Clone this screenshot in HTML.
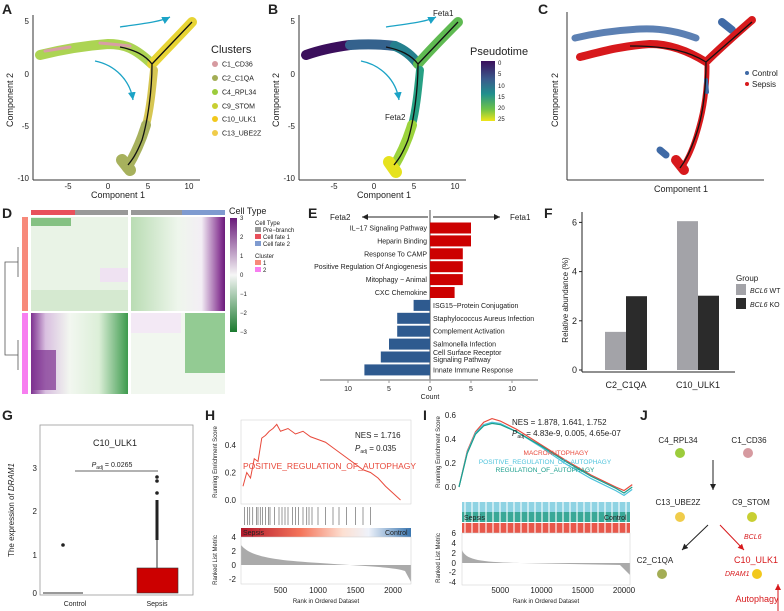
<!DOCTYPE html>
<html><head><meta charset="utf-8">
<style>
html,body{margin:0;padding:0;background:#fff;}
svg{display:block;font-family:"Liberation Sans",sans-serif;}
.t{fill:#222;}
</style></head>
<body>
<svg id="fig" width="784" height="611" viewBox="0 0 784 611" xmlns="http://www.w3.org/2000/svg">
<defs>
<linearGradient id="ptime" x1="0" y1="0" x2="0" y2="1">
<stop offset="0" stop-color="#3b0f5c"/><stop offset="0.3" stop-color="#3a5a8c"/><stop offset="0.55" stop-color="#21908d"/><stop offset="0.8" stop-color="#6cc24a"/><stop offset="1" stop-color="#f0e51a"/></linearGradient>
<linearGradient id="hmbar" x1="0" y1="0" x2="0" y2="1">
<stop offset="0" stop-color="#6a1b7a"/><stop offset="0.5" stop-color="#f6f6f6"/><stop offset="1" stop-color="#1b7a2f"/></linearGradient>
<linearGradient id="hm1" x1="0" y1="0" x2="1" y2="0">
<stop offset="0" stop-color="#b9dcb3"/><stop offset="0.5" stop-color="#eef6ec"/><stop offset="0.75" stop-color="#f3eef5"/><stop offset="0.95" stop-color="#8a3d96"/><stop offset="1" stop-color="#6a1b7a"/></linearGradient>
<linearGradient id="hm2" x1="0" y1="0" x2="1" y2="0">
<stop offset="0" stop-color="#7d3190"/><stop offset="0.15" stop-color="#d9bfe0"/><stop offset="0.4" stop-color="#f2f7f0"/><stop offset="0.7" stop-color="#dcefd8"/><stop offset="1" stop-color="#3d9a4d"/></linearGradient>
<linearGradient id="rankbar" x1="0" y1="0" x2="1" y2="0">
<stop offset="0" stop-color="#b2182b"/><stop offset="0.35" stop-color="#f4745a"/><stop offset="0.6" stop-color="#fde0d2"/><stop offset="0.75" stop-color="#eef2fa"/><stop offset="1" stop-color="#3a76b0"/></linearGradient>
<marker id="ab" markerWidth="8" markerHeight="8" refX="6" refY="3" orient="auto"><path d="M0,0 L6,3 L0,6 z" fill="#222"/></marker>
<marker id="ar" markerWidth="8" markerHeight="8" refX="6" refY="3" orient="auto"><path d="M0,0 L6,3 L0,6 z" fill="#d7191c"/></marker>
<marker id="at" markerWidth="8" markerHeight="8" refX="6" refY="3" orient="auto"><path d="M0,0 L6,3 L0,6 z" fill="#1ba3c6"/></marker>
</defs>

<!-- panel letters -->
<g font-weight="bold" font-size="14" class="t">
<text x="2" y="14">A</text><text x="268" y="14">B</text><text x="538" y="14">C</text>
<text x="2" y="218">D</text><text x="308" y="218">E</text><text x="544" y="218">F</text>
<text x="2" y="420">G</text><text x="205" y="420">H</text><text x="423" y="420">I</text><text x="640" y="420">J</text>
</g>

<!-- Panel A -->
<g>
<g fill="none" stroke-linecap="round" stroke-linejoin="round" opacity="0.95">
<path d="M40,55 C60,50 80,46 108,44 C125,44 135,48 152,64" stroke="#a8d24a" stroke-width="10"/>
<path d="M45,51 L70,47 M100,43 L130,46" stroke="#d69aa0" stroke-width="3"/>
<path d="M152,64 C165,50 180,35 192,22" stroke="#e6d22a" stroke-width="10"/>
<path d="M154,70 C152,90 150,110 146,125" stroke="#d4c44a" stroke-width="8"/>
<path d="M146,125 C140,145 133,158 127,168" stroke="#a3ad55" stroke-width="10"/>
<path d="M122,160 L130,170" stroke="#a3ad55" stroke-width="12"/>
</g>
<path d="M120,47 C135,50 145,55 152,64 C152,90 148,120 142,140 C136,155 132,160 128,165 M152,64 L192,22" fill="none" stroke="#111" stroke-width="1.3"/>
<path d="M120,27 C140,24 160,22 170,17" fill="none" stroke="#1ba3c6" stroke-width="1.3" marker-end="url(#at)"/>
<path d="M95,61 C115,65 130,80 133,100" fill="none" stroke="#1ba3c6" stroke-width="1.3" marker-end="url(#at)"/>
<line x1="33" y1="15" x2="33" y2="180" stroke="#333"/><line x1="33" y1="180" x2="200" y2="180" stroke="#333"/>
<g font-size="8" class="t" text-anchor="end"><text x="29" y="24">5</text><text x="29" y="77">0</text><text x="29" y="129">-5</text><text x="29" y="181">-10</text></g>
<g font-size="8" class="t" text-anchor="middle"><text x="68" y="189">-5</text><text x="108" y="189">0</text><text x="148" y="189">5</text><text x="189" y="189">10</text></g>
<text x="118" y="198" font-size="9" text-anchor="middle" class="t">Component 1</text>
<text transform="translate(13,100) rotate(-90)" font-size="9" text-anchor="middle" class="t">Component 2</text>
<text x="211" y="53" font-size="11" class="t">Clusters</text>
<g font-size="7" class="t">
<circle cx="215" cy="64" r="3" fill="#d69aa0"/><text x="222" y="66.5">C1_CD36</text>
<circle cx="215" cy="78" r="3" fill="#a3ad55"/><text x="222" y="80.5">C2_C1QA</text>
<circle cx="215" cy="92" r="3" fill="#9ccc3c"/><text x="222" y="94.5">C4_RPL34</text>
<circle cx="215" cy="106" r="3" fill="#c8cf32"/><text x="222" y="108.5">C9_STOM</text>
<circle cx="215" cy="119" r="3" fill="#f2c81c"/><text x="222" y="121.5">C10_ULK1</text>
<circle cx="215" cy="133" r="3" fill="#f0cc4a"/><text x="222" y="135.5">C13_UBE2Z</text>
</g>
</g>

<!-- Panel B -->
<g>
<g fill="none" stroke-linecap="round" stroke-linejoin="round">
<path d="M306,55 C320,50 335,47 350,45" stroke="#3b0f5c" stroke-width="10"/>
<path d="M350,45 C365,44 380,44 395,46" stroke="#34628d" stroke-width="10"/>
<path d="M395,46 C405,50 412,56 418,64" stroke="#24808e" stroke-width="10"/>
<path d="M418,64 C430,50 445,35 458,22" stroke="#5fba52" stroke-width="10"/>
<path d="M420,70 C418,90 416,110 412,125" stroke="#27a084" stroke-width="8"/>
<path d="M412,125 C406,145 399,158 393,168" stroke="#9bd33c" stroke-width="10"/>
<path d="M389,162 L396,172" stroke="#e6e21e" stroke-width="12"/>
</g>
<path d="M386,47 C401,50 411,55 418,64 C418,90 414,120 408,140 C402,155 398,160 394,165 M418,64 L458,22" fill="none" stroke="#111" stroke-width="1.3"/>
<path d="M386,27 C406,24 426,22 436,17" fill="none" stroke="#1ba3c6" stroke-width="1.3" marker-end="url(#at)"/>
<path d="M361,61 C381,65 396,80 399,100" fill="none" stroke="#1ba3c6" stroke-width="1.3" marker-end="url(#at)"/>
<text x="433" y="16" font-size="8" class="t">Feta1</text><text x="385" y="120" font-size="8" class="t">Feta2</text>
<line x1="299" y1="15" x2="299" y2="180" stroke="#333"/><line x1="299" y1="180" x2="466" y2="180" stroke="#333"/>
<g font-size="8" class="t" text-anchor="end"><text x="295" y="24">5</text><text x="295" y="77">0</text><text x="295" y="129">-5</text><text x="295" y="181">-10</text></g>
<g font-size="8" class="t" text-anchor="middle"><text x="334" y="189">-5</text><text x="374" y="189">0</text><text x="414" y="189">5</text><text x="455" y="189">10</text></g>
<text x="384" y="198" font-size="9" text-anchor="middle" class="t">Component 1</text>
<text transform="translate(279,100) rotate(-90)" font-size="9" text-anchor="middle" class="t">Component 2</text>
<text x="470" y="55" font-size="11" class="t">Pseudotime</text>
<rect x="481" y="61" width="14" height="60" fill="url(#ptime)"/>
<g font-size="6" class="t"><text x="498" y="65">0</text><text x="498" y="76">5</text><text x="498" y="88">10</text><text x="498" y="99">15</text><text x="498" y="110">20</text><text x="498" y="121">25</text></g>
</g>

<!-- Panel C -->
<g>
<g fill="none" stroke-linecap="round" stroke-linejoin="round">
<path d="M575,38 C600,32 620,30 640,29 C660,28 680,32 696,38" stroke="#3f6aa6" stroke-width="7" opacity="0.85"/>
<path d="M722,22 L732,30" stroke="#3f6aa6" stroke-width="8"/>
<path d="M580,57 C600,52 620,46 650,44 C670,44 690,52 706,62" stroke="#d7191c" stroke-width="8"/>
<path d="M706,62 C720,48 735,35 752,20" stroke="#d7191c" stroke-width="8"/>
<path d="M707,66 C707,90 704,110 698,130 C693,148 688,158 682,168" stroke="#d7191c" stroke-width="5"/>
<path d="M676,160 L684,170" stroke="#d7191c" stroke-width="10"/>
<path d="M706,80 L707,92" stroke="#3f6aa6" stroke-width="4"/>
<path d="M660,150 L666,155" stroke="#3f6aa6" stroke-width="7"/>
</g>
<path d="M630,46 C670,46 690,52 706,62 L752,22 M706,62 C706,90 703,115 696,135 C690,152 686,160 680,168" fill="none" stroke="#111" stroke-width="1.3"/>
<line x1="567" y1="12" x2="567" y2="180" stroke="#333"/><line x1="567" y1="180" x2="764" y2="180" stroke="#333"/>
<text x="681" y="192" font-size="9" text-anchor="middle" class="t">Component 1</text>
<text transform="translate(558,100) rotate(-90)" font-size="9" text-anchor="middle" class="t">Component 2</text>
<g font-size="8" class="t">
<circle cx="747" cy="73" r="2" fill="#3f6aa6"/><text x="752" y="76">Control</text>
<circle cx="747" cy="84" r="2" fill="#d7191c"/><text x="752" y="87">Sepsis</text>
</g>
</g>

<!-- Panel D heatmap -->
<g>
<rect x="31" y="210" width="44" height="5" fill="#e8505b"/><rect x="75" y="210" width="53" height="5" fill="#999"/>
<rect x="131" y="210" width="51" height="5" fill="#999"/><rect x="182" y="210" width="43" height="5" fill="#7f9bd0"/>
<rect x="31" y="217" width="97" height="94" fill="#e9f3e6"/><rect x="131" y="217" width="94" height="94" fill="url(#hm1)"/>
<rect x="31" y="218" width="40" height="8" fill="#6bb46a" opacity="0.8"/>
<rect x="31" y="290" width="97" height="21" fill="#cfe6ca" opacity="0.8"/>
<rect x="100" y="268" width="28" height="14" fill="#efe2f2"/>
<rect x="31" y="313" width="97" height="81" fill="url(#hm2)"/><rect x="131" y="313" width="94" height="81" fill="#f1f7ef"/>
<rect x="185" y="313" width="40" height="60" fill="#7cbf7c" opacity="0.8"/>
<rect x="131" y="313" width="50" height="20" fill="#f3e9f5"/>
<rect x="31" y="350" width="25" height="40" fill="#7d3190" opacity="0.7"/>
<rect x="22" y="217" width="6" height="94" fill="#f7897a"/><rect x="22" y="313" width="6" height="81" fill="#f77ef0"/>
<path d="M18,262 H5 V355 H18 M18,247 V277 M18,340 V370" fill="none" stroke="#555" stroke-width="0.8"/>
<text x="229" y="214" font-size="9" class="t">Cell Type</text>
<rect x="230" y="218" width="7" height="114" fill="url(#hmbar)"/>
<g font-size="6" class="t"><text x="240" y="220">3</text><text x="240" y="239">2</text><text x="240" y="258">1</text><text x="240" y="277">0</text><text x="240" y="296">−1</text><text x="240" y="315">−2</text><text x="240" y="334">−3</text></g>
<g font-size="6" class="t"><text x="255" y="225">Cell Type</text>
<rect x="255" y="227" width="6" height="5" fill="#999"/><text x="263" y="232">Pre−branch</text>
<rect x="255" y="234" width="6" height="5" fill="#e8505b"/><text x="263" y="239">Cell fate 1</text>
<rect x="255" y="241" width="6" height="5" fill="#7f9bd0"/><text x="263" y="246">Cell fate 2</text>
<text x="255" y="258">Cluster</text>
<rect x="255" y="260" width="6" height="5" fill="#f7897a"/><text x="263" y="265">1</text>
<rect x="255" y="267" width="6" height="5" fill="#f77ef0"/><text x="263" y="272">2</text></g>
</g>

<g id="panelE"></g>
<g id="panelF"></g>

<!-- Panel G -->
<g>
<rect x="40" y="425" width="153" height="170" fill="none" stroke="#999" stroke-width="0.8"/>
<text x="115" y="446" font-size="9" text-anchor="middle" class="t">C10_ULK1</text>
<line x1="75" y1="471" x2="158" y2="471" stroke="#666"/>
<text x="112" y="467" font-size="7" text-anchor="middle" class="t"><tspan font-style="italic">P</tspan><tspan font-size="5" dy="2">adj</tspan><tspan dy="-2"> = 0.0265</tspan></text>
<line x1="43" y1="593" x2="83" y2="593" stroke="#333"/>
<circle cx="63" cy="545" r="1.8" fill="#222"/>
<rect x="137" y="568" width="41" height="25" fill="#cc0000" stroke="#333" stroke-width="0.6"/>
<line x1="157" y1="568" x2="157" y2="540" stroke="#333"/>
<path d="M157,540 V500" stroke="#222" stroke-width="3"/>
<circle cx="157" cy="477" r="1.8" fill="#222"/><circle cx="157" cy="481" r="1.8" fill="#222"/><circle cx="157" cy="493" r="1.8" fill="#222"/>
<g font-size="8" class="t" text-anchor="end"><text x="37" y="471">3</text><text x="37" y="514">2</text><text x="37" y="558">1</text><text x="37" y="596">0</text></g>
<text x="75" y="606" font-size="7" text-anchor="middle" class="t">Control</text><text x="157" y="606" font-size="7" text-anchor="middle" class="t">Sepsis</text>
<text transform="translate(14,510) rotate(-90)" font-size="8" text-anchor="middle" class="t">The expression of <tspan font-style="italic">DRAM1</tspan></text>
</g>

<g id="panelH"></g>
<g id="panelI"></g>

<!-- Panel J -->
<g font-size="8">
<text x="678" y="443" text-anchor="middle" class="t">C4_RPL34</text><circle cx="680" cy="453" r="5" fill="#9ccc3c"/>
<text x="749" y="443" text-anchor="middle" class="t">C1_CD36</text><circle cx="748" cy="453" r="5" fill="#d69aa0"/>
<line x1="713" y1="460" x2="713" y2="490" stroke="#222" marker-end="url(#ab)"/>
<text x="678" y="505" text-anchor="middle" class="t">C13_UBE2Z</text><circle cx="680" cy="517" r="5" fill="#f0cc4a"/>
<text x="751" y="505" text-anchor="middle" class="t">C9_STOM</text><circle cx="752" cy="517" r="5" fill="#c8cf32"/>
<line x1="708" y1="525" x2="682" y2="550" stroke="#222" marker-end="url(#ab)"/>
<line x1="720" y1="525" x2="744" y2="550" stroke="#d7191c" marker-end="url(#ar)"/>
<text x="744" y="539" font-size="7" font-style="italic" fill="#d7191c">BCL6</text>
<text x="655" y="563" text-anchor="middle" class="t">C2_C1QA</text><circle cx="662" cy="574" r="5" fill="#a3ad55"/>
<text x="756" y="563" text-anchor="middle" font-size="9" fill="#d7191c">C10_ULK1</text>
<text x="725" y="576" font-size="7" font-style="italic" fill="#d7191c">DRAM1</text><circle cx="757" cy="574" r="5" fill="#f2c81c"/>
<text x="757" y="602" text-anchor="middle" font-size="9" fill="#d7191c">Autophagy</text>
<line x1="778" y1="611" x2="778" y2="584" stroke="#d7191c" marker-end="url(#ar)"/>
</g>
</svg>

<script>
const NS="http://www.w3.org/2000/svg";
// Panel E data
const eTerms=["IL−17 Signaling Pathway","Heparin Binding","Response To CAMP","Positive Regulation Of Angiogenesis","Mitophagy − Animal","CXC Chemokine","ISG15−Protein Conjugation","Staphylococcus Aureus Infection","Complement Activation","Salmonella Infection","Cell Surface Receptor|Signaling Pathway","Innate Immune Response"];
const eCounts=[5,5,4,4,4,3,2,4,4,5,6,8];
const eDir=[1,1,1,1,1,1,-1,-1,-1,-1,-1,-1];
const eTicks=[10,5,0,5,10];
// Panel F data
const fClusters=["C2_C1QA","C10_ULK1"];
const fWT=[1.55,6.05];
const fKO=[3.0,3.02];
const fTicks=[0,2,4,6];
// Panel H data
const hRank=[0,50,100,150,200,250,300,350,400,450,500,600,700,800,900,1000,1100,1200,1300,1400,1500,1600,1700,1800,1900,2000,2100];
const hES=[0.1,0.2,0.16,0.3,0.28,0.45,0.47,0.5,0.52,0.55,0.5,0.52,0.48,0.5,0.46,0.44,0.42,0.38,0.34,0.3,0.26,0.22,0.2,0.16,0.1,0.05,0.0];
const hXTicks=[500,1000,1500,2000];
const hYTicks=[0.0,0.2,0.4];
// Panel I data
const iRank=[0,1000,2000,3000,4000,5000,7000,10000,13000,16000,19000,20000,21000];
const iES1=[0,0.3,0.46,0.54,0.57,0.55,0.48,0.35,0.22,0.1,0.0,-0.03,0.02];
const iES2=[0,0.28,0.44,0.51,0.53,0.52,0.46,0.34,0.21,0.09,-0.01,-0.05,0.0];
const iES3=[0,0.29,0.45,0.52,0.54,0.53,0.46,0.33,0.19,0.07,-0.03,-0.07,-0.02];
const iXTicks=[5000,10000,15000,20000];
const iYTicks=[0.0,0.2,0.4,0.6];

function mk(tag,attrs,parent){const e=document.createElementNS(NS,tag);for(const k in attrs)e.setAttribute(k,attrs[k]);parent.appendChild(e);return e;}
function txt(s,attrs,parent){const e=mk('text',attrs,parent);e.textContent=s;return e;}

// ---- Panel E
(function(){
const g=document.getElementById('panelE');
const cx=430,u=8.2,y0=228,step=12.9,bh=11;
const xs=v=>cx+v*u;
txt("Feta2",{x:330,y:220,'font-size':8,fill:'#222'},g);
txt("Feta1",{x:510,y:220,'font-size':8,fill:'#222'},g);
mk('line',{x1:428,y1:217,x2:362,y2:217,stroke:'#222','marker-end':'url(#ab)'},g);
mk('line',{x1:433,y1:217,x2:500,y2:217,stroke:'#222','marker-end':'url(#ab)'},g);
mk('line',{x1:430,y1:210,x2:430,y2:380,stroke:'#222','stroke-width':0.8},g);
eCounts.forEach((c,i)=>{
 const yc=y0+i*step;
 const r=mk('rect',{x:eDir[i]>0?cx:xs(-c),y:yc-bh/2,width:c*u,height:bh,fill:eDir[i]>0?'#cc0000':'#2e5a8f'},g);
 
 
 const parts=eTerms[i].split('|');
 parts.forEach((p,j)=>{
  const off=parts.length>1?(j===0?-2:5):2.5;
  txt(p,{x:eDir[i]>0?cx-3:cx+3,y:yc+off,'font-size':7,'text-anchor':eDir[i]>0?'end':'start',fill:'#222'},g);
 });
});
mk('line',{x1:320,y1:380,x2:538,y2:380,stroke:'#999','stroke-width':1.5},g);
const tv=[-10,-5,0,5,10];
tv.forEach((v,i)=>{mk('line',{x1:xs(v),y1:380,x2:xs(v),y2:383,stroke:'#999'},g);txt(String(eTicks[i]),{x:xs(v),y:391,'font-size':7,'text-anchor':'middle',fill:'#222'},g);});
txt("Count",{x:430,y:399,'font-size':7,'text-anchor':'middle',fill:'#222'},g);
})();

// ---- Panel F
(function(){
const g=document.getElementById('panelF');
const y0=370,u=24.6,bw=21;
const ys=v=>y0-v*u;
const centers=[626,698];
mk('line',{x1:582,y1:212,x2:582,y2:372,stroke:'#222'},g);
mk('line',{x1:582,y1:372,x2:735,y2:372,stroke:'#222'},g);
fTicks.forEach(t=>{mk('line',{x1:579,y1:ys(t),x2:582,y2:ys(t),stroke:'#222'},g);txt(String(t),{x:577,y:ys(t)+3,'font-size':9,'text-anchor':'end',fill:'#222'},g);});
fClusters.forEach((c,i)=>{
 const b1=mk('rect',{x:centers[i]-bw,y:ys(fWT[i]),width:bw,height:fWT[i]*u,fill:'#a3a3a8'},g);
 
 
 const b2=mk('rect',{x:centers[i],y:ys(fKO[i]),width:bw,height:fKO[i]*u,fill:'#2b2b2b'},g);
 
 
 txt(c,{x:centers[i],y:388,'font-size':9,'text-anchor':'middle',fill:'#222'},g);
});
txt("Relative abundance (%)",{transform:'translate(568,300) rotate(-90)','font-size':8,'text-anchor':'middle',fill:'#222'},g);
txt("Group",{x:736,y:281,'font-size':8,fill:'#222'},g);
mk('rect',{x:736,y:284,width:10,height:11,fill:'#a3a3a8'},g);
mk('rect',{x:736,y:298,width:10,height:11,fill:'#2b2b2b'},g);
const l1=txt("",{x:750,y:293,'font-size':7,fill:'#222'},g);l1.innerHTML='<tspan font-style="italic">BCL6</tspan> WT';
const l2=txt("",{x:750,y:307,'font-size':7,fill:'#222'},g);l2.innerHTML='<tspan font-style="italic">BCL6</tspan> KO';
})();

// ---- Panel H
(function(){
const g=document.getElementById('panelH');
const L=241,R=411;
const xs=r=>243+r*0.075;
const ys=v=>500-v*137.5;
mk('rect',{x:L,y:420,width:R-L,height:84,fill:'none',stroke:'#ccc','stroke-width':0.5},g);
hYTicks.forEach(t=>txt(t.toFixed(1),{x:236,y:ys(t)+3,'font-size':8,'text-anchor':'end',fill:'#222'},g));
const line=mk('polyline',{points:hRank.map((r,i)=>xs(r)+','+ys(hES[i])).join(' '),fill:'none',stroke:'#e8493b','stroke-width':1},g);


txt("NES =  1.716",{x:355,y:438,'font-size':8,fill:'#222'},g);
const p=txt("",{x:355,y:451,'font-size':8,fill:'#222'},g);p.innerHTML='<tspan font-style="italic">P</tspan><tspan font-size="5" dy="2">adj</tspan><tspan dy="-2">  = 0.035</tspan>';
txt("POSITIVE_REGULATION_OF_AUTOPHAGY",{x:243,y:469,'font-size':8.5,fill:'#e8493b'},g);
// barcode
const hits=[20,60,90,130,180,200,230,260,300,340,360,420,480,520,560,600,660,700,740,800,850,880,920,1000,1100,1200,1280,1380,1500,1600,1700];
hits.forEach(h=>mk('line',{x1:xs(h),y1:507,x2:xs(h),y2:525,stroke:'#555','stroke-width':0.6},g));
mk('rect',{x:L,y:528,width:R-L,height:9,fill:'url(#rankbar)'},g);
txt("Sepsis",{x:243,y:535,'font-size':7,fill:'#222'},g);
txt("Control",{x:385,y:535,'font-size':7,fill:'#222'},g);
mk('path',{d:`M${L},565 L${L},545 C250,556 270,560 320,563 C360,566 395,567 405,571 L${R},582 L${R},565 Z`,fill:'#aaa'},g);
mk('rect',{x:L,y:537,width:R-L,height:47,fill:'none',stroke:'#ccc','stroke-width':0.5},g);
[[4,537],[2,551],[0,565],[-2,579]].forEach(a=>txt(String(a[0]),{x:236,y:a[1]+3,'font-size':8,'text-anchor':'end',fill:'#222'},g));
hXTicks.forEach(t=>txt(String(t),{x:xs(t),y:593,'font-size':8,'text-anchor':'middle',fill:'#222'},g));
txt("Rank in Ordered Dataset",{x:326,y:603,'font-size':6,'text-anchor':'middle',fill:'#222'},g);
txt("Running Enrichment Score",{transform:'translate(217,462) rotate(-90)','font-size':6,'text-anchor':'middle',fill:'#222'},g);
txt("Ranked List Metric",{transform:'translate(217,560) rotate(-90)','font-size':6,'text-anchor':'middle',fill:'#222'},g);
})();

// ---- Panel I
(function(){
const g=document.getElementById('panelI');
const L=462,R=630;
const xs=r=>459+r*0.00825;
const ys=v=>487-v*120;
iYTicks.forEach(t=>txt(t.toFixed(1),{x:456,y:ys(t)+3,'font-size':8,'text-anchor':'end',fill:'#222'},g));
[[iES1,'#e8493b'],[iES3,'#4fc3dc'],[iES2,'#1a9e8c']].forEach((s,k)=>{
 const pl=mk('polyline',{points:iRank.map((r,i)=>xs(r)+','+ys(s[0][i])).join(' '),fill:'none',stroke:s[1],'stroke-width':1.2},g);
 
 
});
txt("NES = 1.878, 1.641, 1.752",{x:512,y:425,'font-size':8,fill:'#222'},g);
const p=txt("",{x:512,y:436,'font-size':8,fill:'#222'},g);p.innerHTML='<tspan font-style="italic">P</tspan><tspan font-size="5" dy="2">adj</tspan><tspan dy="-2"> = 4.83e-9, 0.005, 4.65e-07</tspan>';
txt("MACROAUTOPHAGY",{x:556,y:455,'font-size':6.5,'text-anchor':'middle',fill:'#e8493b'},g);
txt("POSITIVE_REGULATION_OF_AUTOPHAGY",{x:545,y:464,'font-size':6.5,'text-anchor':'middle',fill:'#4fc3dc'},g);
txt("REGULATION_OF_AUTOPHAGY",{x:545,y:472,'font-size':6.5,'text-anchor':'middle',fill:'#1a9e8c'},g);
mk('rect',{x:L,y:502,width:R-L,height:10,fill:'#8fd3e3'},g);
mk('rect',{x:L,y:512,width:R-L,height:10,fill:'#3aa897'},g);
mk('rect',{x:L,y:523,width:R-L,height:10,fill:'#e8584b'},g);
for(let x=L+2;x<R;x+=7){mk('rect',{x:x,y:502,width:2,height:31,fill:'#fff',opacity:0.55},g);}
txt("Sepsis",{x:464,y:520,'font-size':7,fill:'#222'},g);
txt("Control",{x:604,y:520,'font-size':7,fill:'#222'},g);
mk('path',{d:`M${L},563 L${L},550 C466,560 480,562 520,563 L${R-10},565 L${R},575 L${R},563 Z`,fill:'#aaa'},g);
mk('rect',{x:L,y:533,width:R-L,height:52,fill:'none',stroke:'#ccc','stroke-width':0.5},g);
[[6,533],[4,543],[2,553],[0,563],[-2,572],[-4,582]].forEach(a=>txt(String(a[0]),{x:456,y:a[1]+3,'font-size':8,'text-anchor':'end',fill:'#222'},g));
iXTicks.forEach(t=>txt(String(t),{x:xs(t),y:593,'font-size':8,'text-anchor':'middle',fill:'#222'},g));
txt("Rank in Ordered Dataset",{x:546,y:603,'font-size':6,'text-anchor':'middle',fill:'#222'},g);
txt("Running Enrichment Score",{transform:'translate(440,452) rotate(-90)','font-size':6,'text-anchor':'middle',fill:'#222'},g);
txt("Ranked List Metric",{transform:'translate(440,558) rotate(-90)','font-size':6,'text-anchor':'middle',fill:'#222'},g);
})();
</script>
</body></html>
